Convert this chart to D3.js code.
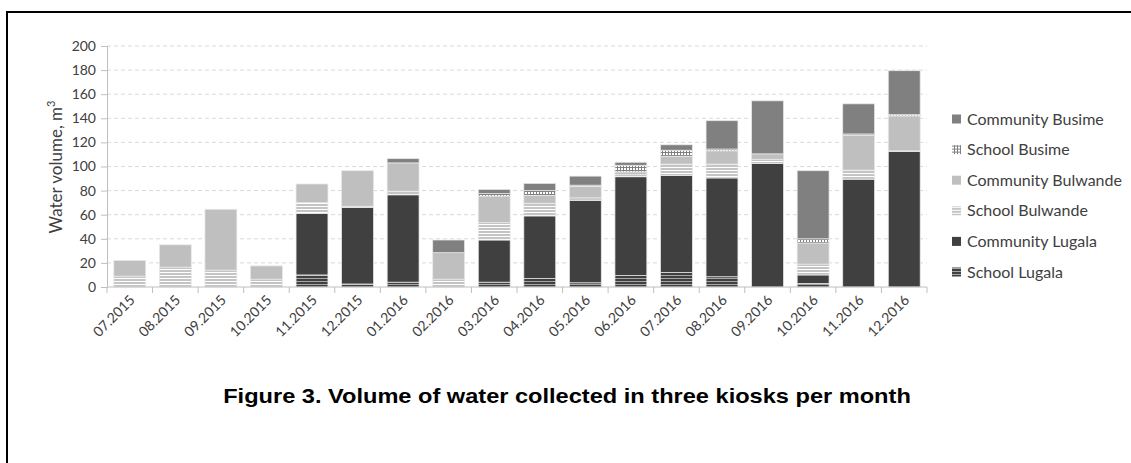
<!DOCTYPE html>
<html>
<head>
<meta charset="utf-8">
<script src="https://cdn.jsdelivr.net/npm/d3@7"></script>
<style>
  body { margin: 0; background: #fff; }
  svg { display: block; }
  .axis text { font-family: Lato, "Open Sans", sans-serif; fill: #404040; }
</style>
</head>
<body>
<div id="chart"></div>
<script>
const months = ['07.2015', '08.2015', '09.2015', '10.2015', '11.2015', '12.2015',
  '01.2016', '02.2016', '03.2016', '04.2016', '05.2016', '06.2016',
  '07.2016', '08.2016', '09.2016', '10.2016', '11.2016', '12.2016'];

const schoolLugala      = [0, 0, 0, 0, 10, 2.5, 4, 0, 4, 7, 3.5, 9.5, 12, 8.5, 0, 3, 0, 0];
const communityLugala   = [0, 0, 0, 0, 51, 63.5, 72.5, 0, 35, 52, 68.5, 82, 80.5, 82, 102.5, 7, 89.5, 112.5];
const schoolBulwande    = [9, 16.5, 14, 6.5, 9, 1, 3, 6.5, 14.5, 10.5, 2, 2, 9.5, 11.5, 3.5, 9, 7.5, 0.5];
const communityBulwande = [13, 18.5, 50.5, 11, 15.5, 29.5, 23.5, 22, 22, 6.5, 9.5, 2, 6.5, 11, 4.5, 17.5, 29, 29];
const schoolBusime      = [0, 0, 0, 0, 0, 0, 0, 0, 2, 4, 1, 5.5, 5, 1.5, 0, 3.5, 1, 1];
const communityBusime   = [0, 0, 0, 0, 0, 0, 3.5, 10.5, 3.5, 6, 7.5, 2.5, 4.5, 23.5, 44, 56.5, 25, 36.5];

const seriesNames = ['School Lugala', 'Community Lugala', 'School Bulwande',
  'Community Bulwande', 'School Busime', 'Community Busime'];
const yTicks = [0, 20, 40, 60, 80, 100, 120, 140, 160, 180, 200];

const rows = months.map((m, i) => ({
  month: m,
  'School Lugala': schoolLugala[i],
  'Community Lugala': communityLugala[i],
  'School Bulwande': schoolBulwande[i],
  'Community Bulwande': communityBulwande[i],
  'School Busime': schoolBusime[i],
  'Community Busime': communityBusime[i],
}));

const width = 1131;
const height = 463;
const margin = { left: 107, right: 204, top: 46, bottom: 176 };

const svg = d3.select('#chart').append('svg')
  .attr('width', width)
  .attr('height', height);

// fill patterns, excel style
const defs = svg.append('defs');
function stripes(id, base, line) {
  const p = defs.append('pattern').attr('id', id)
    .attr('patternUnits', 'userSpaceOnUse').attr('width', 4).attr('height', 3);
  p.append('rect').attr('width', 4).attr('height', 3).attr('fill', base);
  p.append('rect').attr('y', 2).attr('width', 4).attr('height', 1).attr('fill', line);
}
stripes('pSL', '#404040', '#a6a6a6');
stripes('pSBw', '#c4c4c4', '#ffffff');
const grid = defs.append('pattern').attr('id', 'pSBs')
  .attr('patternUnits', 'userSpaceOnUse').attr('width', 3).attr('height', 3);
grid.append('rect').attr('width', 3).attr('height', 3).attr('fill', '#808080');
grid.append('rect').attr('width', 2).attr('height', 2).attr('fill', '#ffffff');

const fills = {
  'School Lugala': 'url(#pSL)',
  'Community Lugala': '#404040',
  'School Bulwande': 'url(#pSBw)',
  'Community Bulwande': '#bfbfbf',
  'School Busime': 'url(#pSBs)',
  'Community Busime': '#808080',
};

// frame around the figure
svg.append('path')
  .attr('d', `M7,${height} L7,12 L${width},12`)
  .attr('fill', 'none')
  .attr('stroke', '#000')
  .attr('stroke-width', 2);

const x = d3.scaleBand()
  .domain(months)
  .range([margin.left, width - margin.right])
  .padding(0);

const y = d3.scaleLinear()
  .domain([0, 200])
  .range([height - margin.bottom, margin.top]);

// gridlines
svg.append('g')
  .selectAll('line')
  .data(yTicks.slice(1))
  .join('line')
  .attr('x1', margin.left)
  .attr('x2', width - margin.right)
  .attr('y1', (d) => y(d))
  .attr('y2', (d) => y(d))
  .attr('stroke', '#d9d9d9')
  .attr('stroke-dasharray', '4,3');

const stack = d3.stack().keys(seriesNames);
const stacked = stack(rows);
const barW = x.bandwidth() * 0.7;

svg.append('g')
  .selectAll('g')
  .data(stacked)
  .join('g')
  .attr('fill', (s) => fills[s.key])
  .selectAll('rect')
  .data((s) => s.filter((d) => d[1] - d[0] > 0))
  .join('rect')
  .attr('x', (d) => x(d.data.month) + (x.bandwidth() - barW) / 2)
  .attr('width', barW)
  .attr('y', (d) => y(d[1]))
  .attr('height', (d) => y(d[0]) - y(d[1]))
  .attr('stroke', '#e8e8e8')
  .attr('stroke-width', 0.75);

// y axis
const yAxis = svg.append('g')
  .attr('class', 'axis')
  .attr('transform', `translate(${margin.left},0)`)
  .call(d3.axisLeft(y).tickValues(yTicks).tickSize(6).tickPadding(5));
yAxis.select('.domain').attr('stroke', '#bfbfbf');
yAxis.selectAll('.tick line').attr('stroke', '#bfbfbf');
yAxis.selectAll('.tick text').attr('font-size', 14);

// x axis: ticks sit between the months
const xAxis = svg.append('g').attr('class', 'axis');
xAxis.append('line')
  .attr('x1', margin.left)
  .attr('x2', width - margin.right)
  .attr('y1', y(0))
  .attr('y2', y(0))
  .attr('stroke', '#bfbfbf');
xAxis.selectAll('.sep')
  .data(months.concat(['end']))
  .join('line')
  .attr('class', 'sep')
  .attr('x1', (d) => (d === 'end' ? width - margin.right : x(d)))
  .attr('x2', (d) => (d === 'end' ? width - margin.right : x(d)))
  .attr('y1', y(0))
  .attr('y2', y(0) + 6)
  .attr('stroke', '#bfbfbf');
xAxis.selectAll('.lbl')
  .data(months)
  .join('text')
  .attr('class', 'lbl')
  .attr('text-anchor', 'end')
  .attr('font-size', 14)
  .attr('transform', (d) => `translate(${x(d) + x.bandwidth() / 2 + 6},${y(0) + 14}) rotate(-45)`)
  .text((d) => d);

// axis title
const yTitle = svg.append('text')
  .attr('class', 'axis')
  .attr('transform', `translate(62,167) rotate(-90)`)
  .attr('text-anchor', 'middle')
  .attr('font-family', 'Lato, "Open Sans", sans-serif')
  .attr('font-size', 17)
  .attr('fill', '#404040')
  .text('Water volume, m');
yTitle.append('tspan').attr('dy', -7).attr('font-size', 11).text('3');

// legend, top entry is the top of the stack
const legend = svg.append('g')
  .selectAll('g')
  .data(seriesNames.slice().reverse())
  .join('g')
  .attr('transform', (d, i) => `translate(952,${119 + i * 30.6})`);
legend.append('rect')
  .attr('y', -4.5)
  .attr('width', 9)
  .attr('height', 9)
  .attr('fill', (d) => fills[d]);
legend.append('text')
  .attr('x', 15)
  .attr('dy', '0.35em')
  .attr('font-family', 'Lato, "Open Sans", sans-serif')
  .attr('font-size', 16)
  .attr('fill', '#404040')
  .text((d) => d);

// the figure caption is a little wider than plain arial
svg.append('text')
  .attr('transform', 'translate(567,403) scale(1.18,1)')
  .attr('text-anchor', 'middle')
  .attr('font-family', '"Liberation Sans", Arial, sans-serif')
  .attr('font-weight', 'bold')
  .attr('font-size', 20)
  .attr('fill', '#000')
  .text('Figure 3. Volume of water collected in three kiosks per month');
</script>
</body>
</html>
